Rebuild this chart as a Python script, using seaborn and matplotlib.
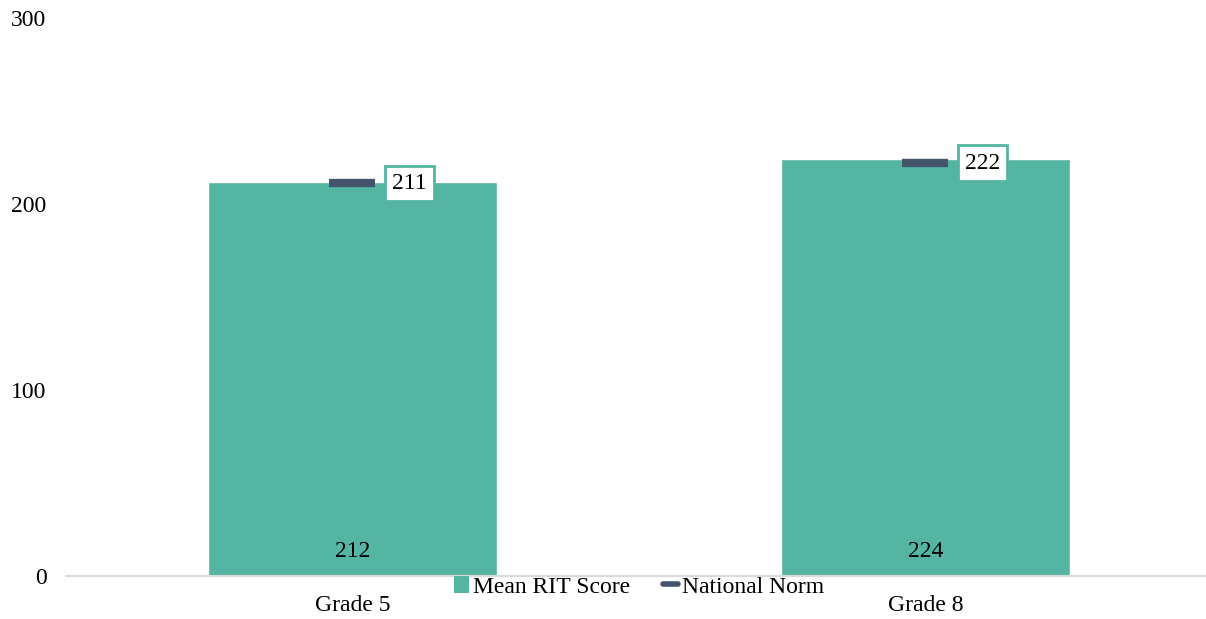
import numpy as np
import pandas as pd
import seaborn as sns
import matplotlib.pyplot as plt
from matplotlib.patches import Patch
from matplotlib.lines import Line2D

# Data
grades = ["Grade 5", "Grade 8"]
mean_rit = [212, 224]
national_norm = [211, 222]

teal = "#55B5A3"
navy = "#44546A"

sns.set_theme(style="white")
plt.rcParams["font.family"] = ["Liberation Serif", "DejaVu Serif"]

df = pd.DataFrame({"grade": grades, "rit": mean_rit})

fig = plt.figure(figsize=(12.06, 6.19), dpi=100)
ax = fig.add_axes([0.0547, 0.0695, 0.9502, 0.9015])

sns.barplot(data=df, x="grade", y="rit", color=teal, saturation=1, width=0.503, ax=ax)

# national norm markers
pos = np.arange(len(grades))
ax.plot(pos, national_norm, linestyle="none", marker="_", markersize=33,
        markeredgewidth=6, color=navy, zorder=3)

# labels
for x, v in zip(pos, mean_rit):
    ax.text(x, 13, str(v), ha="center", va="center", fontsize=17, color="black")
for x, v in zip(pos, national_norm):
    ax.annotate(str(v), xy=(x, v), xytext=(41, 0), textcoords="offset points",
                ha="center", va="center", fontsize=17, color="black",
                bbox=dict(boxstyle="square,pad=0.3", fc="white", ec=teal, lw=2),
                zorder=4)

ax.set_ylim(0, 300)
ax.set_xlim(-0.5, 1.5)
ax.set_yticks([0, 100, 200, 300])
ax.set_xlabel("")
ax.set_ylabel("")
ax.tick_params(axis="y", length=0, pad=14, labelsize=17, labelcolor="black")
ax.tick_params(axis="x", length=0, pad=14, labelsize=17, labelcolor="black")
for s in ["top", "right", "left"]:
    ax.spines[s].set_visible(False)
ax.spines["bottom"].set_color("#D9D9D9")
ax.spines["bottom"].set_linewidth(1.5)

handles = [Patch(facecolor=teal, edgecolor="none", label="Mean RIT Score"),
           Line2D([0], [0], color=navy, lw=4, label="National Norm")]
ax.legend(handles=handles, loc="upper center", bbox_to_anchor=(0.5, 0.0),
          ncol=2, frameon=False, fontsize=17, handlelength=0.65, handleheight=0.75,
          handletextpad=0.15, columnspacing=1.4, borderaxespad=0, borderpad=0,
          labelcolor="black")

fig.savefig("out.png", dpi=100)
